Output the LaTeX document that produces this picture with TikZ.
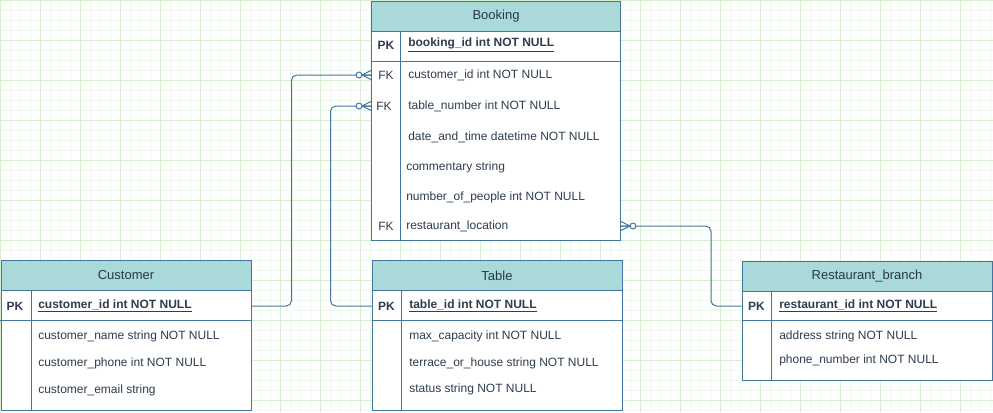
\documentclass[tikz,border=0pt]{standalone}
\usepackage{fontspec}
\setmainfont{Liberation Sans}
\usetikzlibrary{positioning}
\definecolor{gridmaj}{HTML}{D6EFD1}
\definecolor{gridmin}{HTML}{EEF8EC}
\definecolor{erline}{HTML}{44759E}
\definecolor{erhead}{HTML}{A9D9D9}
\definecolor{ertext}{HTML}{2E3D4F}

\begin{document}
\begin{tikzpicture}[x=0.75pt,y=-0.75pt,
  tbl/.style={draw=erline,line width=0.75pt,fill=white,anchor=north west,inner sep=0pt},
  hdr/.style={draw=erline,line width=0.75pt,fill=erhead,anchor=north west,inner sep=0pt,minimum height=22.5pt,font=\fontsize{9.75}{11}\selectfont,text=ertext!90!black},
  row/.style={anchor=west,inner sep=0pt,font=\fontsize{9}{11}\selectfont,text=ertext},
  pkrow/.style={row,font=\fontsize{9}{11}\selectfont\bfseries},
  key/.style={inner sep=0pt,font=\fontsize{9}{11}\selectfont,text=ertext},
  pkkey/.style={key,font=\fontsize{9}{11}\selectfont\bfseries},
  sep/.style={draw=erline,line width=0.75pt},
  conn/.style={draw=erline,line width=0.75pt,rounded corners=4pt},
  zmany/.pic={
    \draw[erline,line width=0.75pt] (-9,0) -- (0,-4.5) (-9,0) -- (0,0) (-9,0) -- (0,4.5);
    \draw[erline,line width=0.75pt,fill=white] (-12,0) circle[radius=2.2pt];
  }]
\useasboundingbox (0,0) rectangle (993,412);
\fill[white] (0,0) rectangle (993,412);
\foreach \x in {10,20,...,990} \draw[gridmin,line width=0.75pt] (\x,0) -- (\x,412);
\foreach \y in {10,20,...,410} \draw[gridmin,line width=0.75pt] (0,\y) -- (993,\y);
\foreach \x in {0,40,...,960} \draw[gridmaj,line width=0.75pt] (\x,0) -- (\x,412);
\foreach \y in {0,40,...,400} \draw[gridmaj,line width=0.75pt] (0,\y) -- (993,\y);

% Booking
\node[tbl,minimum width=186.75pt,minimum height=179.25pt] (booking) at (371,1) {};
\node[hdr,minimum width=186.75pt] (bookinghd) at (booking.north west) {Booking};
\draw[sep] (371,61) -- (620,61);
\draw[sep] (400,31) -- (400,240);
\node[pkkey] (bkpkkey) at (386,45) {PK};
\node[key] (bkfk1) at (386,75) {FK};
\node[key] (bkfk2) at (384,106) {FK};
\node[key] (bkfk3) at (386,226) {FK};
\node[pkrow] (bkpk) at (408,45) {\underline{booking\_id int NOT NULL}};
\node[row] (bkcust) at (408,75) {customer\_id int NOT NULL};
\node[row] (bktbl) at (408,106) {table\_number int NOT NULL};
\node[row] (bkdate) at (408,137) {date\_and\_time datetime NOT NULL};
\node[row] (bkcomm) at (406,167) {commentary string};
\node[row] (bknum) at (406,197) {number\_of\_people int NOT NULL};
\node[row] (bkrest) at (406,226) {restaurant\_location};

% Customer
\node[tbl,minimum width=187.5pt,minimum height=112.5pt] (customer) at (0.5,260) {};
\node[hdr,minimum width=187.5pt] (cushd) at (customer.north west) {Customer};
\draw[sep] (0.5,320) -- (250.5,320);
\draw[sep] (31,290) -- (31,410);
\node[pkkey] (cpkkey) at (15,306) {PK};
\node[pkrow] (cpk) at (38,306) {\underline{customer\_id int NOT NULL}};
\node[row] (cname) at (38,336) {customer\_name string NOT NULL};
\node[row] (cphone) at (38,363) {customer\_phone int NOT NULL};
\node[row] (cemail) at (38,390) {customer\_email string};

% Table
\node[tbl,minimum width=187.5pt,minimum height=112.5pt] (table) at (371.5,260) {};
\node[hdr,minimum width=187.5pt] (tblhd) at (table.north west) {Table};
\draw[sep] (371.5,320) -- (621.5,320);
\draw[sep] (401,290) -- (401,410);
\node[pkkey] (tpkkey) at (386.5,306) {PK};
\node[pkrow] (tpk) at (409,306) {\underline{table\_id int NOT NULL}};
\node[row] (tcap) at (409,336) {max\_capacity int NOT NULL};
\node[row] (tterr) at (409,363) {terrace\_or\_house string NOT NULL};
\node[row] (tstat) at (409,389) {status string NOT NULL};

% Restaurant_branch
\node[tbl,minimum width=187.5pt,minimum height=89.6pt] (restaurant) at (741.5,260.5) {};
\node[hdr,minimum width=187.5pt] (resthd) at (restaurant.north west) {Restaurant\_branch};
\draw[sep] (741.5,320.5) -- (991.5,320.5);
\draw[sep] (771.5,290.5) -- (771.5,380);
\node[pkkey] (rpkkey) at (756.5,306) {PK};
\node[pkrow] (rpk) at (779,306) {\underline{restaurant\_id int NOT NULL}};
\node[row] (raddr) at (779,336) {address string NOT NULL};
\node[row] (rphone) at (779,360) {phone\_number int NOT NULL};

% relations
\draw[conn] (customer.east |- cpk) -- ++(40,0) |- (booking.west |- bkcust);
\pic at (booking.west |- bkcust) {zmany};
\draw[conn] (table.west |- tpk) -- ++(-41,0) |- (booking.west |- bktbl);
\pic at (booking.west |- bktbl) {zmany};
\draw[conn] (booking.east |- bkrest) -- ++(90,0) |- (restaurant.west |- rpk);
\pic[rotate=180] at (booking.east |- bkrest) {zmany};

\end{tikzpicture}
\end{document}
